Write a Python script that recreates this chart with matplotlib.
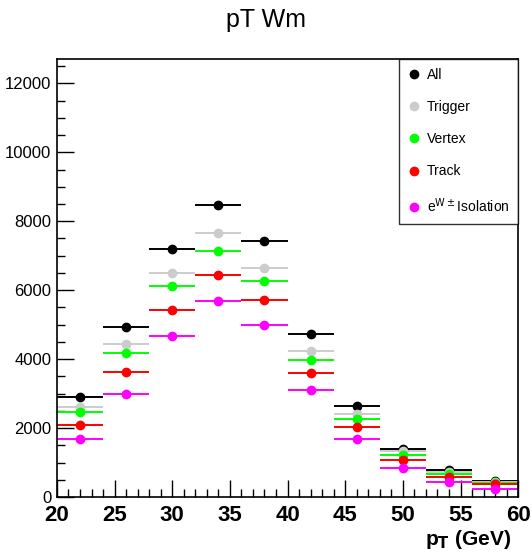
import matplotlib
matplotlib.use("Agg")
import matplotlib.pyplot as plt
from matplotlib.lines import Line2D
from matplotlib.ticker import MultipleLocator

plt.rcParams['font.family'] = ['Liberation Sans', 'DejaVu Sans']

# bin centres (4 GeV bins, 20-60)
pt = [22, 26, 30, 34, 38, 42, 46, 50, 54, 58]
half_width = 2

all_ev = [2900, 4920, 7200, 8470, 7440, 4740, 2630, 1410, 780, 460]
trigger = [2610, 4430, 6490, 7650, 6650, 4240, 2410, 1330, 720, 430]
vertex = [2480, 4180, 6130, 7150, 6280, 3990, 2260, 1220, 660, 410]
track = [2080, 3620, 5420, 6430, 5710, 3600, 2030, 1080, 570, 370]
isolation = [1690, 2990, 4660, 5680, 4980, 3100, 1700, 840, 440, 250]

series = [
    ("All", all_ev, "black"),
    ("Trigger", trigger, "#cccccc"),
    ("Vertex", vertex, "#00ff00"),
    ("Track", track, "#ff0000"),
    ("e$^{\\mathrm{W\\pm}}$Isolation", isolation, "#ff00ff"),
]

fig = plt.figure(figsize=(5.32, 5.53), dpi=100)
ax = fig.add_axes([0.107, 0.101, 0.867, 0.792])

for name, vals, col in series:
    ax.errorbar(pt, vals, xerr=half_width, fmt='o', color=col, ms=6,
                elinewidth=1.4, capsize=0)

ax.set_xlim(20, 60)
ax.set_ylim(0, 12700)
ax.xaxis.set_major_locator(MultipleLocator(5))
ax.xaxis.set_minor_locator(MultipleLocator(1))
ax.yaxis.set_major_locator(MultipleLocator(2000))
ax.yaxis.set_minor_locator(MultipleLocator(500))
ax.tick_params(which='both', direction='in', top=False, right=False)
ax.tick_params(which='major', length=12, width=1)
ax.tick_params(which='minor', length=6, width=1)
ax.tick_params(axis='x', which='major', labelsize=16, pad=6)
ax.tick_params(axis='y', which='major', labelsize=12, pad=4)
for lab in ax.get_xticklabels():
    lab.set_fontweight('bold')
for sp in ax.spines.values():
    sp.set_linewidth(1.2)

ax.set_xlabel("p$_\\mathbf{T}$ (GeV)", fontsize=15, fontweight='bold', loc='right',
              labelpad=1)
ax.xaxis.label.set_x(0.985)
fig.suptitle("pT Wm", fontsize=18, y=0.985)

handles = [Line2D([], [], marker='o', ls='none', color=c, ms=6) for _, _, c in series]
leg = ax.legend(handles, [n for n, _, _ in series], loc='upper right',
                bbox_to_anchor=(1.0, 1.0), borderaxespad=0, fancybox=False,
                edgecolor='black', fontsize=10, labelspacing=1.3,
                handletextpad=0.5, borderpad=0.65, handlelength=0.8)
leg.get_frame().set_linewidth(1.0)

fig.savefig("out.png", dpi=100)
